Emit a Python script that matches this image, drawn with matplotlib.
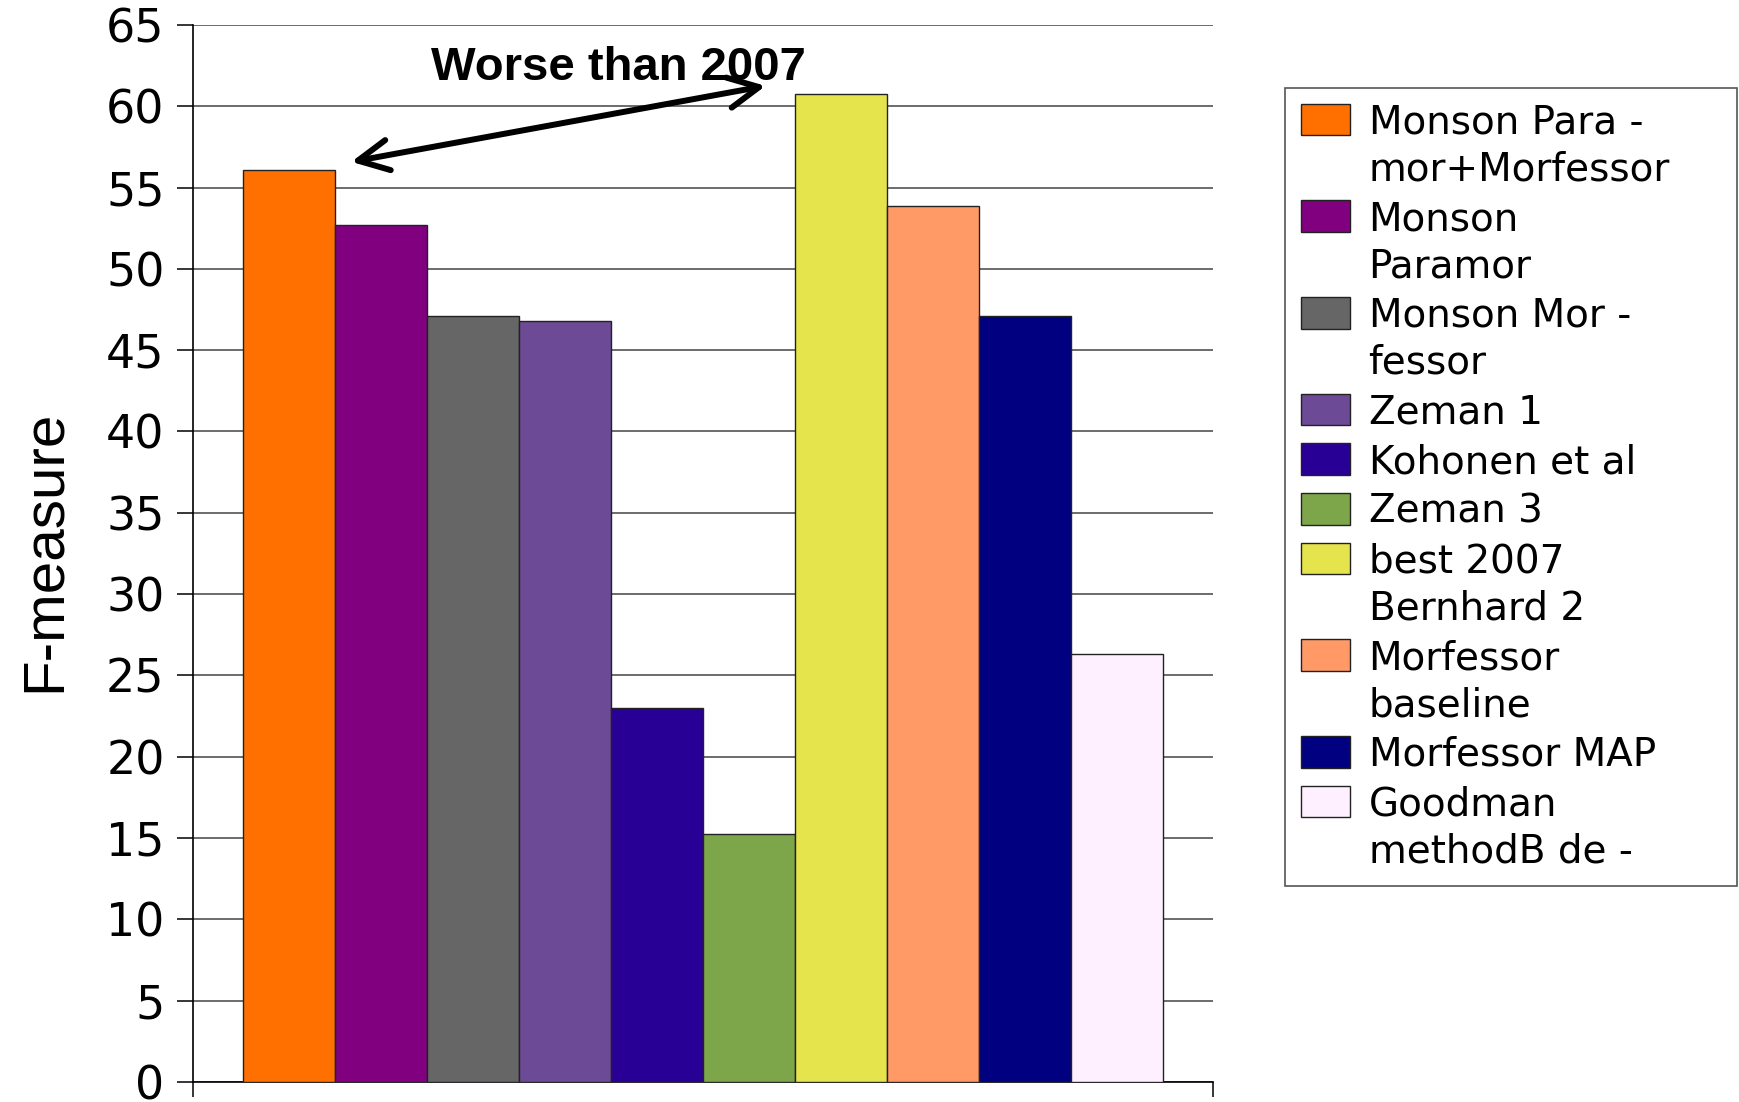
import matplotlib
matplotlib.use("Agg")
import matplotlib.pyplot as plt
import numpy as np

# F-measure per system
systems = ["Monson Para -\nmor+Morfessor", "Monson\nParamor", "Monson Mor -\nfessor",
           "Zeman 1", "Kohonen et al", "Zeman 3", "best 2007\nBernhard 2",
           "Morfessor\nbaseline", "Morfessor MAP", "Goodman\nmethodB de -"]
fmeasure = [56.1, 52.7, 47.1, 46.8, 23.0, 15.25, 60.75, 53.85, 47.1, 26.3]
colors = ["#FF7000", "#800080", "#666666", "#6C4A96", "#290096", "#7DA64A",
          "#E6E44C", "#FF9966", "#000080", "#FFF0FF"]
yticks = list(range(0, 70, 5))
note = "Worse than 2007"

fig = plt.figure(figsize=(17.39, 11.02), dpi=100)
ax = fig.add_axes([0.1110, 0.0182, 0.5865, 0.9592])

x = np.arange(len(fmeasure))
bars = ax.bar(x, fmeasure, width=1.0, color=colors, edgecolor="#222222",
              linewidth=1.0, zorder=3)

ax.set_xlim(-1.04, len(fmeasure) - 1 + 1.04)
ax.set_ylim(0, 65)
ax.set_yticks(yticks)
ax.yaxis.grid(True, color="#444444", linewidth=1.1)
ax.set_axisbelow(True)

# category axis: only the two end ticks, Excel style
ax.set_xticks(ax.get_xlim())
ax.tick_params(axis="x", length=11, width=1.1, direction="out", labelbottom=False)
ax.tick_params(axis="y", length=11.5, width=1.1, direction="out", pad=9,
               labelsize=33)
for s in ("top", "right"):
    ax.spines[s].set_visible(False)
for s in ("left", "bottom"):
    ax.spines[s].set_linewidth(1.2)
    ax.spines[s].set_color("black")

ax.set_ylabel("F-measure", fontsize=42, family=["Liberation Sans", "DejaVu Sans"],
              va="baseline")
ax.yaxis.set_label_coords(-0.1304, 0.502)

# annotation with double arrow between 2008 best and 2007 best
ax.text(3.58, 61.6, note, ha="center", va="baseline", fontsize=34,
        fontweight="bold", family=["Liberation Sans", "DejaVu Sans"], zorder=5)
ax.annotate("", xy=(5.18, 61.25), xytext=(0.68, 56.58),
            arrowprops=dict(arrowstyle="<->,head_length=1.1,head_width=0.55",
                            lw=4.3, color="black", shrinkA=0, shrinkB=0,
                            mutation_scale=20), zorder=6)

leg = fig.legend(bars.patches, systems, loc="upper left",
                 bbox_to_anchor=(0.7389, 0.9201, 0.2599, 0.0), mode="expand",
                 borderaxespad=0, handlelength=1.26,
                 handleheight=0.875, handletextpad=0.49, borderpad=0.4,
                 labelspacing=0.3, fancybox=False, framealpha=1,
                 edgecolor="#555555", prop={"family": "DejaVu Sans", "size": 28})
leg.get_frame().set_linewidth(1.2)
for t in leg.get_texts():
    t.set_linespacing(1.3)
# put the colour box next to the first line of each label
for col in leg._legend_handle_box.get_children():
    for item in col.get_children():
        item.align = "top"

fig.savefig("out.png", dpi=100)
